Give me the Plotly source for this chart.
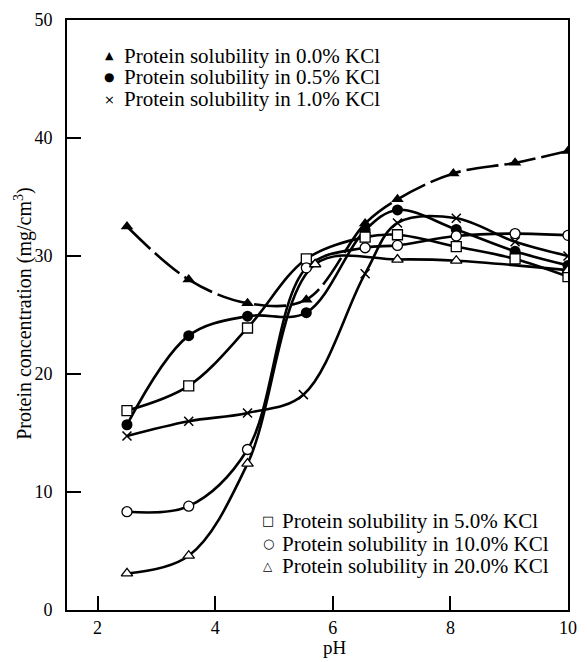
import plotly.graph_objects as go

# pH values and protein concentrations (mg/cm3)
ph_a = [2.5, 3.55, 4.55, 5.55, 6.55, 7.1, 8.05, 9.1, 10.0]
kcl_00 = [32.5, 28.0, 26.0, 26.3, 32.75, 34.8, 37.0, 37.9, 38.9]

ph_b = [2.5, 3.55, 4.55, 5.55, 6.55, 7.1, 8.1, 9.1, 10.0]
kcl_05 = [15.7, 23.25, 24.9, 25.2, 32.2, 33.9, 32.25, 30.4, 29.2]

ph_c = [2.5, 3.55, 4.55, 5.5, 6.55, 7.1, 8.1, 9.1, 10.0]
kcl_10 = [14.75, 16.0, 16.7, 18.25, 28.5, 32.8, 33.2, 31.2, 30.0]

ph_d = [2.5, 3.55, 4.55, 5.55, 6.55, 7.1, 8.1, 9.1, 10.0]
kcl_50 = [16.9, 19.0, 23.9, 29.75, 31.6, 31.8, 30.8, 29.75, 28.25]

ph_e = [2.5, 3.55, 4.55, 5.55, 6.55, 7.1, 8.1, 9.1, 10.0]
kcl_100 = [8.33, 8.8, 13.6, 29.0, 30.7, 30.9, 31.7, 31.9, 31.75]

ph_f = [2.5, 3.55, 4.55, 5.7, 7.1, 8.1, 10.0]
kcl_200 = [3.1, 4.6, 12.4, 29.3, 29.7, 29.6, 28.8]

names = [
    "Protein solubility in 0.0% KCl",
    "Protein solubility in 0.5% KCl",
    "Protein solubility in 1.0% KCl",
    "Protein solubility in 5.0% KCl",
    "Protein solubility in 10.0% KCl",
    "Protein solubility in 20.0% KCl",
]
legend_glyphs = ["▲", "●", "×", "□", "○", "△"]

x_ticks = [2, 4, 6, 8, 10]
y_ticks = [0, 10, 20, 30, 40, 50]
x_title = "pH"
y_title = "Protein concentration (mg/cm<sup>3</sup>)"

FONT = "Liberation Serif"
series = [
    (ph_a, kcl_00, "triangle-up", "black", "32px,6px"),
    (ph_b, kcl_05, "circle", "black", "solid"),
    (ph_c, kcl_10, "x-thin-open", "black", "solid"),
    (ph_d, kcl_50, "square-open", "white", "solid"),
    (ph_e, kcl_100, "circle-open", "white", "solid"),
    (ph_f, kcl_200, "triangle-up-open", "white", "solid"),
]

fig = go.Figure()
for (xs, ys, sym, fill, dash), nm in zip(series, names):
    fig.add_trace(go.Scatter(
        x=xs, y=ys, mode="lines",
        line=dict(color="black", width=2.6, shape="spline", smoothing=1.0, dash=dash),
        showlegend=False, hoverinfo="skip"))
for (xs, ys, sym, fill, dash), nm in zip(series, names):
    base = sym.replace("-open", "")
    if sym == "x-thin-open":
        mk = dict(symbol="x-thin-open", size=9, color="black", line=dict(color="black", width=1.5))
    elif fill == "white":
        mk = dict(symbol=base, size=10, color="white", line=dict(color="black", width=1.3))
    else:
        mk = dict(symbol=base, size=11, color="black", line=dict(color="black", width=0))
    fig.add_trace(go.Scatter(x=xs, y=ys, mode="markers", marker=mk,
                             showlegend=False, name=nm))

# legend blocks drawn as text (two boxes, as in the original figure)
L, R, T, B = 67, 10, 14, 52
W, H = 587, 662
pw, ph = W - L - R, H - T - B


def px2paper(px, py):
    return (px - L) / pw, (H - B - py) / ph


legend_blocks = [
    dict(sym_x=110, txt_x=123, rows=[50, 72, 94], idx=[0, 1, 2]),
    dict(sym_x=272, txt_x=284, rows=[520, 543, 566], idx=[3, 4, 5]),
]
glyph_size = {"▲": 11, "●": 12, "×": 13, "□": 13, "○": 13, "△": 12}
annotations = []
for blk in legend_blocks:
    for row_y, i in zip(blk["rows"], blk["idx"]):
        sx, sy = px2paper(blk["sym_x"], row_y)
        tx, _ = px2paper(blk["txt_x"], row_y)
        g = legend_glyphs[i]
        annotations.append(dict(xref="paper", yref="paper", x=sx, y=sy, text=g,
                                showarrow=False, xanchor="center", yanchor="middle",
                                font=dict(family="DejaVu Sans", size=glyph_size[g], color="black")))
        annotations.append(dict(xref="paper", yref="paper", x=tx, y=sy, text=names[i],
                                showarrow=False, xanchor="left", yanchor="middle",
                                font=dict(family=FONT, size=21, color="black")))

# axis titles as annotations so they sit where the original places them
tx, ty = px2paper(340, 648)
annotations.append(dict(xref="paper", yref="paper", x=tx, y=ty, text=x_title,
                        showarrow=False, xanchor="center", yanchor="middle",
                        font=dict(family=FONT, size=19, color="black")))
tx, ty = px2paper(22, 310)
annotations.append(dict(xref="paper", yref="paper", x=tx, y=ty, text=y_title,
                        textangle=-90, showarrow=False, xanchor="center", yanchor="middle",
                        font=dict(family=FONT, size=20, color="black")))

axis_common = dict(
    showline=True, linecolor="black", linewidth=2, mirror=True,
    ticks="inside", ticklen=14, tickwidth=1.5, tickcolor="black",
    showgrid=False, zeroline=False,
)

fig.update_layout(
    width=W, height=H,
    margin=dict(l=L, r=R, t=T, b=B),
    paper_bgcolor="white", plot_bgcolor="white",
    font=dict(family=FONT, size=18, color="black"),
    xaxis=dict(range=[1.48, 10.0], tickvals=x_ticks, ticklabelstandoff=0,
               tickfont=dict(family=FONT, size=18, color="black"),
               **axis_common),
    yaxis=dict(range=[0, 50], tickvals=y_ticks, ticklabelstandoff=9,
               tickfont=dict(family=FONT, size=18, color="black"),
               **axis_common),
    showlegend=False,
    annotations=annotations,
)

fig.write_html(
    "out.html",
    config={"displayModeBar": False},
    post_script="document.body.style.margin='0';document.body.style.padding='0';",
)
